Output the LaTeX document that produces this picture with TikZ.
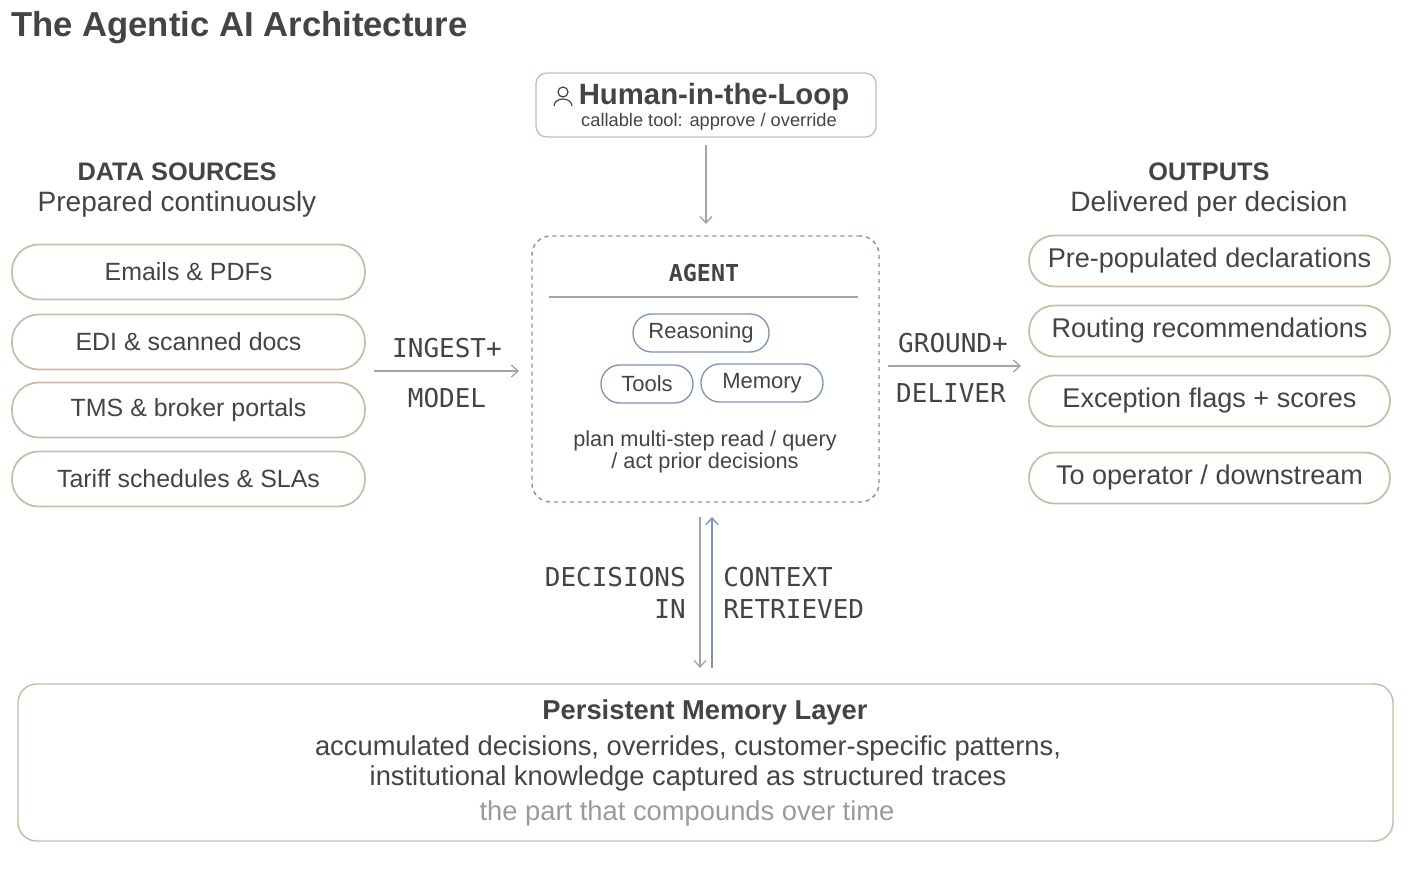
\documentclass[tikz,border=0pt]{standalone}
\usepackage{fontspec}
\setmainfont{Liberation Sans}
\newfontfamily\monof{DejaVu Sans Mono}
\usetikzlibrary{arrows.meta}
\definecolor{txt}{HTML}{444444}
\definecolor{tan}{HTML}{C9BBA6}
\definecolor{blu}{HTML}{7D93B8}
\definecolor{gry}{HTML}{A8A39B}
\definecolor{lgt}{HTML}{9A9A9A}
\begin{document}
\begin{tikzpicture}[x=0.75pt,y=-0.75pt,
  src/.style={draw=tan,line width=1.3pt,rounded corners=20pt,minimum width=353*0.75pt,minimum height=55*0.75pt,font=\fontsize{18.7}{21}\selectfont,text=txt},
  outbox/.style={draw=tan,line width=1.3pt,rounded corners=19pt,minimum width=361*0.75pt,minimum height=51*0.75pt,font=\fontsize{20.3}{23}\selectfont,text=txt},
  pill/.style={draw=blu,line width=1pt,rounded corners=14pt,minimum height=38*0.75pt,font=\fontsize{16.5}{19}\selectfont,text=txt,inner xsep=10pt},
  lab/.style={font=\monof\fontsize{19.5}{24}\selectfont,text=txt},
  head/.style={font=\bfseries\fontsize{19}{22}\selectfont,text=txt},
  sub/.style={font=\fontsize{21}{24}\selectfont,text=txt},
  arr/.style={draw=gry,line width=1pt,-{Straight Barb[length=5pt,width=9pt]}},
  every node/.style={inner sep=0pt}]
\useasboundingbox (0,0) rectangle (1411,870);
\node[anchor=west,font=\bfseries\fontsize{26}{29}\selectfont,text=txt] (title) at (11,28) {The Agentic AI Architecture};
% left
\node[head] (dsh) at (177,172) {DATA SOURCES};
\node[sub] (dss) at (177,204) {Prepared continuously};
\node[src] (s1) at (188.5,272) {Emails \& PDFs};
\node[src] (s2) at (188.5,342) {EDI \& scanned docs};
\node[src] (s3) at (188.5,410) {TMS \& broker portals};
\node[src] (s4) at (188.5,479) {Tariff schedules \& SLAs};
% human
\node[draw=tan,line width=1pt,rounded corners=8pt,minimum width=340*0.75pt,minimum height=64*0.75pt] (hum) at (706,105) {};
\node[font=\bfseries\fontsize{22}{25}\selectfont,text=txt] (humt) at (714,97) {Human-in-the-Loop};
\node[font=\fontsize{13.7}{16}\selectfont,text=txt] (hums) at (709,122) {callable tool: approve / override};
\draw[txt,line width=0.9pt] (563,92) circle (5);
\draw[txt,line width=0.9pt] (554,106) arc (180:360:9 and 7);
% agent
\node[draw=blu,dashed,dash pattern=on 3pt off 3pt,line width=1.1pt,rounded corners=14pt,minimum width=347*0.75pt,minimum height=266*0.75pt] (agent) at (705.5,369) {};
\node[font=\monof\bfseries\fontsize{17.5}{20}\selectfont,text=txt] (agt) at (704,273) {AGENT};
\coordinate (la) at (549,297); \coordinate (lb) at (858,297);
\draw[gry,line width=1pt] (la) -- (lb);
\node[pill,minimum width=136*0.75pt] (rea) at (701,333) {Reasoning};
\node[pill,minimum width=92*0.75pt] (tools) at (647,384) {Tools};
\node[pill,minimum width=122*0.75pt] (mem) at (762,383) {Memory};
\node[font=\fontsize{16.3}{18}\selectfont,text=txt,align=center] (plan) at (705,452) {plan multi-step read / query\\[-1pt]/ act prior decisions};
\coordinate (hb) at (706,145);
\draw[arr] (hb) -- (706,224);
% in/out labels
\node[lab] (ing) at (447,348) {INGEST+};
\node[lab] (mod) at (447,398) {MODEL};
\coordinate (ia) at (374,371); \coordinate (ib) at (519,371);
\draw[arr] (ia) -- (ib);
\node[lab] (gr) at (953,343) {GROUND+};
\node[lab] (del) at (951,393) {DELIVER};
\coordinate (oa) at (888,366); \coordinate (ob) at (1021,366);
\draw[arr] (oa) -- (ob);
% outputs
\node[head] (oh) at (1209,172) {OUTPUTS};
\node[sub] (os) at (1209,204) {Delivered per decision};
\node[outbox] (o1) at (1209.5,261) {Pre-populated declarations};
\node[outbox] (o2) at (1209.5,331) {Routing recommendations};
\node[outbox] (o3) at (1209.5,401) {Exception flags + scores};
\node[outbox] (o4) at (1209.5,478) {To operator / downstream};
% memory layer
\node[draw=tan,line width=1.1pt,rounded corners=14pt,minimum width=1375*0.75pt,minimum height=157*0.75pt] (pml) at (705.5,762.5) {};
\node[font=\bfseries\fontsize{20.5}{23}\selectfont,text=txt] (pmt) at (705,712) {Persistent Memory Layer};
\node[sub,align=center,font=\fontsize{20.5}{23}\selectfont] (pmd) at (688,763.5) {accumulated decisions, overrides, customer-specific patterns,\\[-1pt]institutional knowledge captured as structured traces};
\node[sub,text=lgt,font=\fontsize{20.5}{23}\selectfont] (pmg) at (687,813) {the part that compounds over time};
\coordinate (d1) at (700,517); \coordinate (d2) at (700,668);
\draw[arr] (d1) -- (d2);
\coordinate (u1) at (712,668); \coordinate (u2) at (712,517);
\draw[arr,draw=blu] (u1) -- (u2);
\node[lab,anchor=east,align=right] (dec) at (686,593) {DECISIONS\\IN};
\node[lab,anchor=west,align=left] (ctx) at (723,593) {CONTEXT\\RETRIEVED};
\end{tikzpicture}
\end{document}
